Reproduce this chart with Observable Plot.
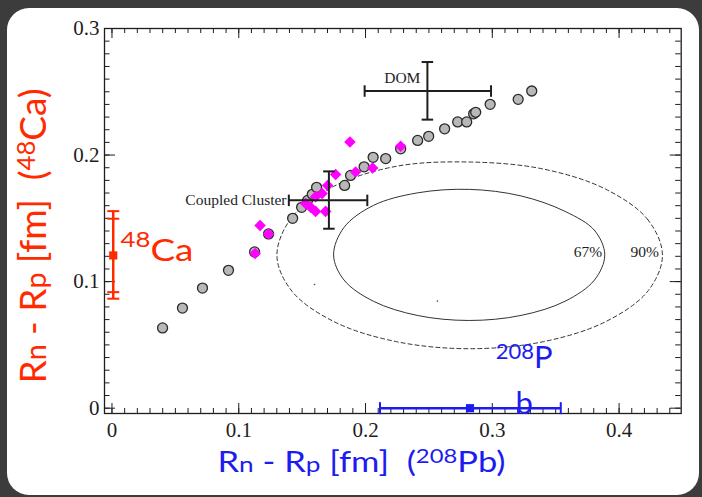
<!DOCTYPE html>
<html><head><meta charset="utf-8">
<script src="https://cdn.jsdelivr.net/npm/d3@7"></script>
<script src="https://cdn.jsdelivr.net/npm/@observablehq/plot@0.6"></script>
<style>
html,body{margin:0;padding:0;background:#3c3c3c;width:702px;height:497px;overflow:hidden;}
#chart{position:absolute;left:7px;top:8px;}
</style></head><body><div id="chart"></div>
<script>
// ---- data ----
// grey circles (model calculations)
const circleX = [0.0399,0.0556,0.0714,0.0919,0.1125,0.1235,0.1425,0.1496,0.1543,0.1580,0.1614,0.1835,0.1882,0.1989,0.2060,0.2159,0.2277,0.2411,0.2498,0.2624,0.2727,0.2798,0.2853,0.2869,0.2983,0.3204,0.3311];
const circleY = [0.0634,0.0791,0.0949,0.1089,0.1235,0.1377,0.1500,0.1587,0.1642,0.1690,0.1745,0.1760,0.1839,0.1907,0.1982,0.1972,0.2049,0.2116,0.2148,0.2207,0.2262,0.2262,0.2326,0.2338,0.2401,0.2440,0.2506];
// magenta diamonds
const diamondX = [0.1129,0.1168,0.1235,0.1527,0.1567,0.1606,0.1606,0.1657,0.1685,0.1701,0.1764,0.1877,0.1922,0.2056,0.2277];
const diamondY = [0.1223,0.1444,0.1377,0.1618,0.1587,0.1670,0.1555,0.1697,0.1555,0.1760,0.1847,0.2104,0.1866,0.1897,0.2069];
// confidence contours
const c67X = [0.3887,0.3806,0.3574,0.3227,0.2818,0.2408,0.2062,0.1830,0.1748,0.1830,0.2062,0.2408,0.2818,0.3227,0.3574,0.3806];
const c67Y = [0.1211,0.1405,0.1555,0.1677,0.1729,0.1701,0.1602,0.1428,0.1211,0.1013,0.0845,0.0733,0.0693,0.0733,0.0845,0.1013];
const c90X = [0.4342,0.4227,0.3897,0.3405,0.2823,0.2242,0.1749,0.1419,0.1301,0.1419,0.1749,0.2242,0.2823,0.3405,0.3897,0.4227];
const c90Y = [0.1207,0.1489,0.1729,0.1889,0.1945,0.1911,0.1753,0.1508,0.1207,0.0925,0.0685,0.0526,0.0470,0.0526,0.0685,0.0925];
const contourLabels = ["67%","90%"];
const contourLabelX = [0.3755,0.4203];
const contourLabelY = [0.1233,0.1233];
const speckX = [0.1598,0.2567];
const speckY = [0.0977,0.0846];
// theory points with error bars
const barNames = ["DOM","Coupled Cluster"];
const barX = [0.2488,0.1711], barXlo = [0.1993,0.1395], barXhi = [0.2990,0.2014];
const barY = [0.2506,0.1642], barYlo = [0.2280,0.1418], barYhi = [0.2735,0.1871];
const barLabelX = [0.2290,0.1377], barLabelY = [0.2609,0.1642];
// 48Ca measurement (red)
const caX = 0.001, caY = 0.1207;
const caLo = [0.0865,0.0917], caHi = [0.1557,0.1497];
const caLabel = "48Ca", caLabelX = 0.0067, caLabelY = 0.1239;
// 208Pb measurement (blue)
const pbX = 0.2824, pbY = 0.0, pbLo = 0.2114, pbHi = 0.354;
const pbLabel = "208Pb", pbLabelX = 0.3252, pbLabelY = 0.0397;
// axes
const xMajor = [0,0.1,0.2,0.3,0.4];
const yMajor = [0,0.1,0.2,0.3];
const xMinor = d3.range(0,45).map(i => i/100);
const yMinor = d3.range(0,31).map(i => i/100);
const xTitle = "Rn - Rp [fm]  (208Pb)";
const yTitle = "Rn - Rp [fm]  (48Ca)";

// ---- build ----
const W = 692, H = 487, mL = 97, mR = 18.3, mT = 20, mB = 82;
const innerW = W - mL - mR, innerH = H - mT - mB;
const RED = "#ff2a00", BLUE = "#1c1cf0", INK = "#1e1e1e";
const serif = "Liberation Serif, Times New Roman, serif";
const sans = "Lato, Open Sans, sans-serif";

const circles = circleX.map((x,i)=>({x, y: circleY[i]}));
const diamonds = diamondX.map((x,i)=>({x, y: diamondY[i]}));
const c67 = c67X.map((x,i)=>({x, y: c67Y[i]}));
const c90 = c90X.map((x,i)=>({x, y: c90Y[i]}));
const specks = speckX.map((x,i)=>({x, y: speckY[i]}));
const cLabels = contourLabels.map((t,i)=>({t, x: contourLabelX[i], y: contourLabelY[i]}));
const bars = barNames.map((name,i)=>({name, x: barX[i], xlo: barXlo[i], xhi: barXhi[i], y: barY[i], ylo: barYlo[i], yhi: barYhi[i], lx: barLabelX[i], ly: barLabelY[i]}));
const barHCaps = bars.flatMap(b => [{x: b.xlo, y: b.y},{x: b.xhi, y: b.y}]);
const barVCaps = bars.flatMap(b => [{x: b.x, y: b.ylo},{x: b.x, y: b.yhi}]);
const caCaps = [...caLo, ...caHi].map(y => ({x: caX, y}));
const pbCaps = [pbLo, pbHi].map(x => ({x, y: pbY}));

const hCap = {draw(ctx, size){ const w = Math.sqrt(size)/2; ctx.moveTo(-w,0); ctx.lineTo(w,0); }};
const vCap = {draw(ctx, size){ const w = Math.sqrt(size)/2; ctx.moveTo(0,-w); ctx.lineTo(0,w); }};

const plot = Plot.plot({
  width: W, height: H,
  marginLeft: mL, marginRight: mR, marginTop: mT, marginBottom: mB,
  x: {domain: [-0.0059, 0.449], axis: null},
  y: {domain: [-0.0042, 0.3], axis: null},
  style: {background: "white", borderRadius: "22px", overflow: "visible"},
  marks: [
    Plot.line(c90, {x: "x", y: "y", curve: "catmull-rom-closed", stroke: "#333", strokeWidth: 1, strokeDasharray: "4,3"}),
    Plot.line(c67, {x: "x", y: "y", curve: "catmull-rom-closed", stroke: "#333", strokeWidth: 1}),
    Plot.dot(specks, {x: "x", y: "y", r: 0.8, fill: "#444"}),
    Plot.text(cLabels, {x: "x", y: "y", text: "t", fontFamily: serif, fontSize: 15.5, fill: INK}),
    Plot.dot(circles, {x: "x", y: "y", r: 5, fill: "#b8b8b8", stroke: "#2a2a2a", strokeWidth: 1.3}),
    Plot.dot(diamonds, {x: "x", y: "y", symbol: "diamond2", r: 5.2, fill: "#ff00ff"}),
    // black theory error bars
    Plot.ruleY(bars, {y: "y", x1: "xlo", x2: "xhi", stroke: INK, strokeWidth: 2}),
    Plot.ruleX(bars, {x: "x", y1: "ylo", y2: "yhi", stroke: INK, strokeWidth: 2}),
    Plot.dot(barHCaps, {x: "x", y: "y", symbol: vCap, r: 6.5, fill: "none", stroke: INK, strokeWidth: 2}),
    Plot.dot(barVCaps, {x: "x", y: "y", symbol: hCap, r: 6.5, fill: "none", stroke: INK, strokeWidth: 2}),
    Plot.text([bars[0]], {x: "lx", y: "ly", text: "name", fontFamily: serif, fontSize: 15.5, fill: INK}),
    Plot.text([bars[1]], {x: "lx", y: "ly", text: "name", textAnchor: "end", fontFamily: serif, fontSize: 15.5, fill: INK}),
    // axis ticks (inward, all four sides)
    Plot.tickX(xMinor, {x: d => d, insetTop: innerH - 5, stroke: INK}),
    Plot.tickX(xMinor, {x: d => d, insetBottom: innerH - 5, stroke: INK}),
    Plot.tickX(xMajor, {x: d => d, insetTop: innerH - 10, stroke: INK}),
    Plot.tickX(xMajor, {x: d => d, insetBottom: innerH - 10, stroke: INK}),
    Plot.tickY(yMinor, {y: d => d, insetRight: innerW - 5.5, stroke: INK}),
    Plot.tickY(yMinor, {y: d => d, insetLeft: innerW - 5.5, stroke: INK}),
    Plot.tickY(yMajor, {y: d => d, insetRight: innerW - 11, stroke: INK}),
    Plot.tickY(yMajor, {y: d => d, insetLeft: innerW - 11, stroke: INK}),
    Plot.frame({stroke: INK, strokeWidth: 1.3}),
    Plot.text(xMajor, {x: d => d, frameAnchor: "bottom", lineAnchor: "middle", dy: 16.5, text: d => String(d), fontFamily: serif, fontSize: 21, fill: INK}),
    Plot.text(yMajor, {y: d => d, frameAnchor: "left", lineAnchor: "middle", dx: -5, textAnchor: "end", text: d => String(d), fontFamily: serif, fontSize: 21, fill: INK}),
    // 48Ca (red)
    Plot.ruleX([{x: caX, lo: caLo[0], hi: caHi[0]}], {x: "x", y1: "lo", y2: "hi", stroke: RED, strokeWidth: 2.5}),
    Plot.dot(caCaps, {x: "x", y: "y", symbol: hCap, r: 6.8, fill: "none", stroke: RED, strokeWidth: 2}),
    Plot.dot([{x: caX, y: caY}], {x: "x", y: "y", symbol: "square", r: 4.6, fill: RED}),
    Plot.text([caLabel], {x: () => caLabelX, y: () => caLabelY, text: d => d, textAnchor: "start", fontFamily: sans, fontSize: 30, fill: RED}),
    // 208Pb (blue)
    Plot.ruleY([{y: pbY, lo: pbLo, hi: pbHi}], {y: "y", x1: "lo", x2: "hi", stroke: BLUE, strokeWidth: 2.5}),
    Plot.dot(pbCaps, {x: "x", y: "y", symbol: vCap, r: 6.8, fill: "none", stroke: BLUE, strokeWidth: 2}),
    Plot.dot([{x: pbX, y: pbY}], {x: "x", y: "y", symbol: "square", r: 4.6, fill: BLUE}),
    Plot.text([pbLabel], {x: () => pbLabelX, y: () => pbLabelY, text: d => d, fontFamily: sans, fontSize: 31, fill: BLUE}),
    // axis titles
    Plot.text([xTitle], {frameAnchor: "bottom", lineAnchor: "middle", textAnchor: "middle", dx: -31.4, dy: 49.2, text: d => d, fontFamily: sans, fontSize: 29, fill: BLUE}),
    Plot.text([yTitle], {frameAnchor: "left", lineAnchor: "middle", textAnchor: "middle", rotate: -90, dx: -70, dy: 15, text: d => d, fontFamily: sans, fontSize: 36, fill: RED})
  ]
});

// rich text (superscripts / subscripts) as tspans
function rich(svg, content, build) {
  d3.select(svg).selectAll("text").filter(function(){ return this.textContent === content; }).each(function(){
    const t = d3.select(this); t.text(null); t.style("white-space", "pre"); build(t);
  });
}
function axisTitle(t, main, sub, sup, supText, tail, len) {
  t.append("tspan").text("R");
  t.append("tspan").attr("font-size", sub).text("n");
  t.append("tspan").text(" - R");
  t.append("tspan").attr("font-size", sub).text("p");
  t.append("tspan").text(" [fm]  (");
  t.append("tspan").attr("font-size", sup).attr("dy", -main*0.32).text(supText);
  t.append("tspan").attr("dy", main*0.32).text(tail);
  t.attr("textLength", len).attr("lengthAdjust", "spacingAndGlyphs");
}
rich(plot, xTitle, t => axisTitle(t, 29, 22, 20, "208", "Pb)", 288));
rich(plot, yTitle, t => axisTitle(t, 36, 28, 25, "48", "Ca)", 295));
rich(plot, caLabel, t => {
  t.append("tspan").attr("font-size", 21).attr("dy", -14).text("48");
  t.append("tspan").attr("dy", 14).text("Ca");
  t.attr("textLength", 73).attr("lengthAdjust", "spacingAndGlyphs");
});
rich(plot, pbLabel, t => {
  t.append("tspan").attr("font-size", 22).attr("dy", -9).text("208");
  t.append("tspan").attr("dy", 9).text("P");
  t.append("tspan").attr("x", 0).attr("dy", 46).text("b");
});

document.getElementById("chart").appendChild(plot);
</script></body></html>
